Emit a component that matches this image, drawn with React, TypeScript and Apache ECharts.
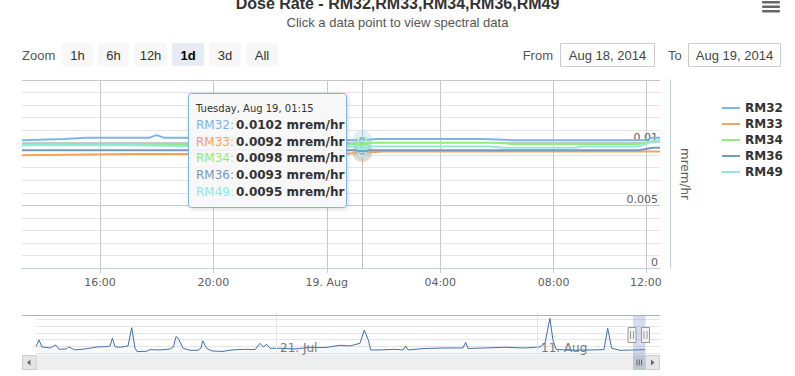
import React, { useEffect, useRef } from 'react';
import * as echarts from 'echarts';

// ---------- data ----------
const slotsToEight: string[] = [];
for (let m = 13 * 60 + 15; m <= 32 * 60; m += 15) {
  const h = Math.floor(m / 60) % 24;
  const mm = m % 60;
  slotsToEight.push(`${String(h).padStart(2, '0')}:${String(mm).padStart(2, '0')}`);
}
const lateSlots = ['08:15', '08:30', '08:45', '09:00', '09:30', '09:45', '10:00', '10:30', '10:45', '11:00', '11:30', '11:45', '12:00', '12:15', '12:30'];
const categories = [...slotsToEight, ...lateSlots];

const xTickTimes = ['16:00', '20:00', '00:00', '04:00', '08:00', '12:00'];
const xTickLabels = ['16:00', '20:00', '19. Aug', '04:00', '08:00', '12:00'];

const yTickValues = [0, 0.005, 0.01];
const yTickLabels = ['0', '0.005', '0.01'];

const seriesNames = ['RM32', 'RM33', 'RM34', 'RM36', 'RM49'];
const seriesColors = ['#7cb5ec', '#f7a35c', '#90ed7d', '#7798BF', '#91e8e1'];

const rm32: [string, number][] = [
  ['13:15', 0.0102], ['14:45', 0.0103], ['15:30', 0.0104], ['17:45', 0.0104], ['18:00', 0.0106],
  ['18:15', 0.0104], ['20:30', 0.0104], ['23:00', 0.0103], ['01:00', 0.0102], ['01:15', 0.0102],
  ['01:45', 0.0103], ['05:30', 0.0103], ['06:30', 0.0102], ['12:00', 0.0102], ['12:15', 0.0104], ['12:30', 0.0104],
];
const rm33: [string, number][] = [
  ['13:15', 0.0090], ['17:00', 0.0091], ['00:30', 0.0091], ['01:15', 0.0092], ['02:00', 0.0093], ['12:30', 0.0093],
];
const rm34: [string, number][] = [
  ['13:15', 0.0099], ['01:00', 0.0099], ['01:15', 0.0098], ['01:30', 0.0100], ['06:00', 0.0100], ['06:30', 0.0099],
  ['11:45', 0.0099], ['12:15', 0.0101], ['12:30', 0.0102],
];
const rm36: [string, number][] = [
  ['13:15', 0.0094], ['01:00', 0.0094], ['01:15', 0.0093], ['01:30', 0.0094], ['11:45', 0.0094], ['12:15', 0.0096], ['12:30', 0.0096],
];
const rm49: [string, number][] = [
  ['13:15', 0.0098], ['17:00', 0.0098], ['20:00', 0.0097], ['01:00', 0.0097], ['01:15', 0.0095], ['01:30', 0.0097],
  ['05:45', 0.0097], ['06:15', 0.0096], ['08:45', 0.0096], ['09:00', 0.0097], ['11:45', 0.0097], ['12:15', 0.0101], ['12:30', 0.0102],
];
const allSeries = [rm32, rm33, rm34, rm36, rm49];

const tooltipTime = '01:15';
const tooltipHeader = 'Tuesday, Aug 19, 01:15';
const unit = 'mrem/hr';

// navigator (overview) series
const navPoints: [string, number][] = [
  ['2014-07-01 16:30', 0.0119], ['2014-07-01 22:20', 0.0139], ['2014-07-02 04:00', 0.0118], ['2014-07-02 19:40', 0.0115],
  ['2014-07-03 06:40', 0.0124], ['2014-07-03 13:00', 0.0111], ['2014-07-04 02:40', 0.0112], ['2014-07-04 07:30', 0.0118],
  ['2014-07-04 19:55', 0.0109], ['2014-07-05 15:10', 0.0112], ['2014-07-06 14:25', 0.0118], ['2014-07-07 09:40', 0.0119],
  ['2014-07-07 15:35', 0.0121], ['2014-07-07 20:00', 0.0144], ['2014-07-08 01:10', 0.0119], ['2014-07-08 10:50', 0.0117],
  ['2014-07-09 02:10', 0.0121], ['2014-07-09 09:20', 0.0176], ['2014-07-09 15:50', 0.0114], ['2014-07-09 19:40', 0.0104],
  ['2014-07-10 14:25', 0.0105], ['2014-07-10 20:40', 0.0110], ['2014-07-11 16:00', 0.0109], ['2014-07-12 11:20', 0.0112],
  ['2014-07-12 18:00', 0.0118], ['2014-07-12 22:50', 0.0149], ['2014-07-13 03:20', 0.0144], ['2014-07-13 12:30', 0.0114],
  ['2014-07-14 02:00', 0.0108], ['2014-07-14 17:20', 0.0108], ['2014-07-14 23:15', 0.0115], ['2014-07-15 02:25', 0.0137],
  ['2014-07-15 10:05', 0.0114], ['2014-07-15 20:25', 0.0106], ['2014-07-16 15:50', 0.01045], ['2014-07-17 11:00', 0.0109],
  ['2014-07-18 12:10', 0.0111], ['2014-07-19 07:30', 0.0110], ['2014-07-19 17:05', 0.0129], ['2014-07-19 23:30', 0.0118],
  ['2014-07-20 06:00', 0.0126], ['2014-07-20 12:25', 0.0114], ['2014-07-21 07:40', 0.0114], ['2014-07-22 12:40', 0.0112],
  ['2014-07-23 17:45', 0.0117], ['2014-07-24 22:35', 0.0116], ['2014-07-26 03:35', 0.0123], ['2014-07-26 22:50', 0.0121],
  ['2014-07-27 18:10', 0.0129], ['2014-07-28 02:25', 0.0169], ['2014-07-28 10:15', 0.0139], ['2014-07-28 14:55', 0.0109],
  ['2014-07-29 08:50', 0.0109], ['2014-07-30 13:45', 0.0111], ['2014-07-31 05:15', 0.0109], ['2014-07-31 10:20', 0.0121],
  ['2014-07-31 14:50', 0.0109], ['2014-08-01 23:45', 0.01135], ['2014-08-03 14:25', 0.0115], ['2014-08-05 01:00', 0.0115],
  ['2014-08-05 06:15', 0.0132], ['2014-08-05 10:40', 0.01135], ['2014-08-06 19:30', 0.0115], ['2014-08-08 10:05', 0.0117],
  ['2014-08-10 00:40', 0.0115], ['2014-08-11 05:40', 0.0118], ['2014-08-11 15:20', 0.0129], ['2014-08-12 01:00', 0.0204],
  ['2014-08-12 06:45', 0.0139], ['2014-08-12 12:40', 0.0111], ['2014-08-13 15:40', 0.0108], ['2014-08-15 06:15', 0.0109],
  ['2014-08-16 09:20', 0.0110], ['2014-08-16 16:30', 0.0174], ['2014-08-17 00:15', 0.0114], ['2014-08-17 16:10', 0.0108],
  ['2014-08-18 21:00', 0.0109], ['2014-08-19 16:30', 0.0110],
];
const navMin = '2014-07-01 16:30';
const navMax = '2014-08-20 21:30';
const navLabelDates = ['2014-07-21 00:00', '2014-08-11 00:00'];
const navLabelTexts = ['21. Jul', '11. Aug'];

const rangeButtons = ['1h', '6h', '12h', '1d', '3d', 'All'];
const selectedButton = '1d';
const fromDate = 'Aug 18, 2014';
const toDate = 'Aug 19, 2014';

// ---------- helpers ----------
const toMs = (s: string) => Date.parse(s.replace(' ', 'T') + ':00Z');
const FONT = '"DejaVu Sans", "Noto Sans", sans-serif';
const NARROW = '"Liberation Sans Narrow", "Liberation Sans", Arial, sans-serif';

const isTick = (_i: number, v: string) => xTickTimes.indexOf(v) >= 0;

function buildOption() {
  const valueAt = (s: [string, number][], t: string) => {
    const p = s.find((d) => d[0] === t);
    return p ? p[1] : 0;
  };

  const mainSeries = allSeries.map((data, i) => {
    const v = valueAt(data, tooltipTime);
    const s: any = {
      name: seriesNames[i],
      type: 'line',
      xAxisIndex: 0,
      yAxisIndex: 0,
      data,
      color: seriesColors[i],
      symbol: 'none',
      lineStyle: { width: 2 },
      silent: true,
      z: 3 + i,
      markPoint: {
        silent: true,
        label: { show: false },
        data: [
          { coord: [tooltipTime, v], symbol: 'circle', symbolSize: 20, itemStyle: { color: seriesColors[i], opacity: 0.22 } },
          { coord: [tooltipTime, v], symbol: 'circle', symbolSize: 8, itemStyle: { color: seriesColors[i], borderColor: '#fff', borderWidth: 1 } },
        ],
      },
    };
    if (i === 0) {
      s.markLine = {
        silent: true,
        symbol: ['none', 'none'],
        label: { show: false },
        lineStyle: { color: '#c0c0c0', type: 'solid', width: 1 },
        data: [{ xAxis: tooltipTime }],
        z: 1,
      };
    }
    return s;
  });

  const navSeries: any = {
    type: 'line',
    xAxisIndex: 1,
    yAxisIndex: 1,
    data: navPoints.map((p) => [toMs(p[0]), p[1]]),
    symbol: 'none',
    color: '#4572A7',
    lineStyle: { width: 1, color: '#4572A7' },
    areaStyle: { color: 'rgba(69,114,167,0.06)' },
    silent: true,
    markLine: {
      silent: true,
      symbol: ['none', 'none'],
      label: { show: false },
      lineStyle: { color: '#e6e6e6', type: 'solid', width: 1 },
      data: navLabelDates.map((d) => ({ xAxis: toMs(d) })),
    },
  };

  // ---- graphics: range selector, tooltip, navigator chrome ----
  const g: any[] = [];
  const Z = 100;
  // hamburger
  [1, 5.5, 10].forEach((y) => g.push({ type: 'rect', z: Z, shape: { x: 762, y, width: 18, height: 2.5, r: 1 }, style: { fill: '#666' } }));
  // Zoom label + buttons
  g.push({ type: 'text', z: Z, x: 22, y: 55, style: { text: 'Zoom', fill: '#555', fontSize: 13, fontFamily: NARROW, verticalAlign: 'middle' } });
  const btnX = [62, 98, 134, 172, 209, 246];
  const btnW = [31, 31, 33, 32, 32, 32];
  rangeButtons.forEach((b, i) => {
    const sel = b === selectedButton;
    g.push({ type: 'rect', z: Z, shape: { x: btnX[i], y: 43, width: btnW[i], height: 23, r: 2 }, style: { fill: sel ? '#e6ebf5' : '#f7f7f7' } });
    g.push({
      type: 'text', z: Z + 1, x: btnX[i] + btnW[i] / 2, y: 55,
      style: { text: b, fill: sel ? '#000' : '#333', fontSize: 13, fontWeight: sel ? 'bold' : 'normal', fontFamily: NARROW, align: 'center', verticalAlign: 'middle' },
    });
  });
  // From / To
  g.push({ type: 'text', z: Z, x: 553, y: 55, style: { text: 'From', fill: '#555', fontSize: 13, fontFamily: NARROW, align: 'right', verticalAlign: 'middle' } });
  g.push({ type: 'rect', z: Z, shape: { x: 560.5, y: 43.5, width: 94, height: 23 }, style: { fill: '#fff', stroke: '#ccc', lineWidth: 1 } });
  g.push({ type: 'text', z: Z + 1, x: 607.5, y: 55, style: { text: fromDate, fill: '#444', fontSize: 13, fontFamily: NARROW, align: 'center', verticalAlign: 'middle' } });
  g.push({ type: 'text', z: Z, x: 668, y: 55, style: { text: 'To', fill: '#555', fontSize: 13, fontFamily: NARROW, verticalAlign: 'middle' } });
  g.push({ type: 'rect', z: Z, shape: { x: 688.5, y: 43.5, width: 92, height: 23 }, style: { fill: '#fff', stroke: '#ccc', lineWidth: 1 } });
  g.push({ type: 'text', z: Z + 1, x: 734.5, y: 55, style: { text: toDate, fill: '#444', fontSize: 13, fontFamily: NARROW, align: 'center', verticalAlign: 'middle' } });

  // tooltip
  const TZ = 300;
  const rowsY = [125, 141.7, 158.4, 175.1, 191.8];
  g.push({
    type: 'rect', z: TZ, shape: { x: 188.5, y: 93.5, width: 158, height: 114, r: 3 },
    style: { fill: 'rgba(249,249,249,0.93)', stroke: '#7cb5ec', lineWidth: 1, shadowBlur: 4, shadowColor: 'rgba(0,0,0,0.15)', shadowOffsetX: 1, shadowOffsetY: 1 },
  });
  g.push({ type: 'text', z: TZ + 1, x: 196, y: 108, style: { text: tooltipHeader, fill: '#333', fontSize: 10, fontFamily: FONT, verticalAlign: 'middle' } });
  allSeries.forEach((data, i) => {
    const v = valueAt(data, tooltipTime);
    g.push({ type: 'text', z: TZ + 1, x: 196, y: rowsY[i], style: { text: seriesNames[i] + ':', fill: seriesColors[i], fontSize: 12, fontFamily: FONT, verticalAlign: 'middle' } });
    g.push({ type: 'text', z: TZ + 1, x: 236, y: rowsY[i], style: { text: v.toFixed(4) + ' ' + unit, fill: '#333', fontSize: 12, fontWeight: 'bold', fontFamily: FONT, verticalAlign: 'middle' } });
  });

  // navigator chrome
  g.push({ type: 'line', z: Z, shape: { x1: 22, y1: 315.5, x2: 660, y2: 315.5 }, style: { stroke: '#b2b1b6', lineWidth: 1 } });
  g.push({ type: 'rect', z: Z, shape: { x: 633, y: 316, width: 12.5, height: 39 }, style: { fill: 'rgba(102,133,194,0.28)' } });
  [632, 645.5].forEach((hx) => {
    g.push({ type: 'rect', z: Z + 1, shape: { x: hx - 4, y: 327.5, width: 8, height: 15 }, style: { fill: '#f2f2f2', stroke: '#999', lineWidth: 1 } });
    g.push({ type: 'line', z: Z + 2, shape: { x1: hx - 1.5, y1: 331, x2: hx - 1.5, y2: 339 }, style: { stroke: '#999', lineWidth: 1 } });
    g.push({ type: 'line', z: Z + 2, shape: { x1: hx + 1.5, y1: 331, x2: hx + 1.5, y2: 339 }, style: { stroke: '#999', lineWidth: 1 } });
  });
  // scrollbar
  g.push({ type: 'rect', z: Z, shape: { x: 22, y: 355, width: 638, height: 15 }, style: { fill: '#eeeeee' } });
  g.push({ type: 'rect', z: Z + 1, shape: { x: 22.5, y: 355.5, width: 13.5, height: 14 }, style: { fill: '#e6e6e6', stroke: '#cccccc', lineWidth: 1 } });
  g.push({ type: 'polygon', z: Z + 2, shape: { points: [[30.5, 359.5], [30.5, 365.5], [27, 362.5]] }, style: { fill: '#666' } });
  g.push({ type: 'rect', z: Z + 1, shape: { x: 633, y: 355, width: 12.5, height: 15 }, style: { fill: '#bfc8d1' } });
  [637, 639.3, 641.6].forEach((lx) => g.push({ type: 'line', z: Z + 2, shape: { x1: lx, y1: 359.5, x2: lx, y2: 365.5 }, style: { stroke: '#666', lineWidth: 1 } }));
  g.push({ type: 'rect', z: Z + 1, shape: { x: 645.5, y: 355.5, width: 14, height: 14 }, style: { fill: '#e6e6e6', stroke: '#cccccc', lineWidth: 1 } });
  g.push({ type: 'polygon', z: Z + 2, shape: { points: [[651, 359.5], [651, 365.5], [654.5, 362.5]] }, style: { fill: '#666' } });

  return {
    animation: false,
    backgroundColor: '#ffffff',
    tooltip: { show: false },
    title: [
      { text: 'Dose Rate - RM32,RM33,RM34,RM36,RM49', left: 'center', top: -5, padding: 0, textStyle: { fontSize: 16, fontWeight: 'bold', color: '#333', fontFamily: NARROW } },
      { text: 'Click a data point to view spectral data', left: 'center', top: 16, padding: 0, textStyle: { fontSize: 13, fontWeight: 'normal', color: '#555', fontFamily: NARROW } },
    ],
    legend: {
      data: seriesNames,
      orient: 'vertical',
      left: 722,
      top: 101,
      padding: 0,
      itemWidth: 18,
      itemHeight: 2,
      itemGap: 2,
      icon: 'rect',
      selectedMode: false,
      textStyle: { fontSize: 12, fontWeight: 'bold', color: '#333', fontFamily: FONT, lineHeight: 14 },
    },
    grid: [
      { left: 22, right: 135, top: 80, height: 188 },
      { left: 36, right: 135, top: 313, height: 46.6 },
    ],
    xAxis: [
      {
        type: 'category',
        gridIndex: 0,
        data: categories,
        boundaryGap: false,
        axisLine: { show: true, lineStyle: { color: '#C0D0E0' } },
        axisTick: { show: true, length: 5, interval: isTick, lineStyle: { color: '#C0D0E0' } },
        axisLabel: {
          interval: isTick,
          formatter: (v: string) => {
            const i = xTickTimes.indexOf(v);
            return i >= 0 ? xTickLabels[i] : '';
          },
          color: '#606060',
          fontSize: 11,
          fontFamily: FONT,
          margin: 9,
        },
        splitLine: { show: true, interval: isTick, lineStyle: { color: '#c8c8c8', width: 1 } },
      },
      {
        type: 'value',
        gridIndex: 1,
        min: toMs(navMin),
        max: toMs(navMax),
        axisLine: { show: false },
        axisTick: { show: false },
        splitLine: { show: false },
        axisLabel: {
          inside: true,
          customValues: navLabelDates.map(toMs),
          formatter: (v: number) => {
            const i = navLabelDates.map(toMs).indexOf(v);
            return i >= 0 ? navLabelTexts[i] : '';
          },
          align: 'left',
          verticalAlign: 'bottom',
          margin: 6,
          padding: [0, 0, 0, 4],
          color: '#7a7a7a',
          fontSize: 12,
          fontFamily: FONT,
        },
      },
    ],
    yAxis: [
      {
        type: 'value',
        gridIndex: 0,
        position: 'right',
        offset: 10,
        min: 0,
        max: 0.015,
        interval: 0.001,
        name: unit,
        nameLocation: 'middle',
        nameRotate: -90,
        nameGap: 8,
        nameTextStyle: { color: '#606060', fontSize: 12, fontFamily: FONT },
        axisLine: { show: true, lineStyle: { color: '#C0D0E0' } },
        axisTick: { show: false },
        axisLabel: {
          inside: true,
          margin: 12,
          verticalAlign: 'bottom',
          color: '#606060',
          fontSize: 11,
          fontFamily: FONT,
          formatter: (v: number) => {
            const i = yTickValues.findIndex((t) => Math.abs(t - v) < 1e-9);
            return i >= 0 ? yTickLabels[i] : '';
          },
        },
        splitLine: { show: true, lineStyle: { color: ['#c8c8c8', '#e6e6e6', '#e6e6e6', '#e6e6e6', '#e6e6e6'], width: 1 } },
      },
      {
        type: 'value',
        gridIndex: 1,
        min: 0.008,
        max: 0.022,
        interval: 0.002,
        axisLine: { show: false },
        axisTick: { show: false },
        axisLabel: { show: false },
        splitLine: { show: true, showMinLine: false, showMaxLine: false, lineStyle: { color: '#e6e6e6', width: 1 } },
      },
    ],
    series: [...mainSeries, navSeries],
    graphic: g,
  };
}

export default function App() {
  const ref = useRef<HTMLDivElement>(null);
  useEffect(() => {
    document.body.style.margin = '0';
    const chart = echarts.init(ref.current as HTMLDivElement, null, { renderer: 'svg' });
    chart.setOption(buildOption() as any);
    return () => chart.dispose();
  }, []);
  return <div ref={ref} style={{ width: 795, height: 376 }} />;
}
